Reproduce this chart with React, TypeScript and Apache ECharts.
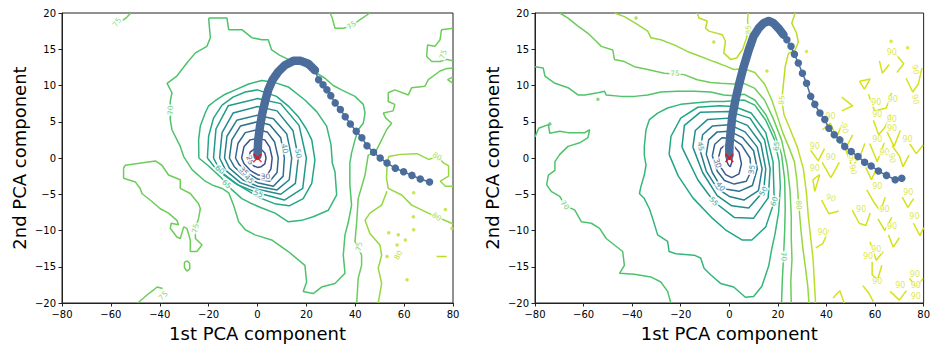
import React, { useEffect, useRef } from "react";
import * as echarts from "echarts";

// ---------- level colours (viridis-like) ----------
const LEVEL_COLORS: Record<number, string> = {
  25: "#3e4c8a", 30: "#3a548c", 35: "#31668e", 40: "#2c728e", 45: "#277f8e",
  50: "#228c8d", 55: "#1f998a", 60: "#22a785", 65: "#35b779", 70: "#4ec36b",
  75: "#6ccd5a", 80: "#95d840", 85: "#bade28", 90: "#d5e21a",
};
const TRAJ_COLOR = "#4a6d9c";

// ---------- LEFT PANEL contours ----------
const L25 = [[-3.5,0],[-3,0.8],[-1.5,1.2],[0,1.3],[1.5,1.2],[3,0.7],[3.5,0],[3,-0.8],[1.5,-1.2],[0,-1.3],[-1.5,-1.1],[-3,-0.6]];
const L30 = [[-6.5,0],[-5.5,1.6],[-3,2.5],[0,2.7],[3,2.5],[5,1.5],[6,0],[5.5,-1.5],[3.5,-2.6],[0,-2.3],[-3,-1.7],[-5.5,-0.8]];
const L35 = [[-9,0],[-8,2],[-5,3.5],[0,3.9],[4,3.6],[7,2.2],[8.5,0],[8,-2],[5,-3.2],[0,-2.9],[-4,-2.1],[-7.5,-0.9]];
const L40 = [[-11.5,0],[-10.5,2.5],[-7,4.4],[0,5],[5,4.6],[9.5,2.8],[11,0],[10.5,-2.5],[6.5,-3.9],[0,-3.4],[-5,-2.6],[-9.5,-1.2]];
const L45 = [[-13.5,0],[-12.5,3],[-8.5,5.2],[0,5.9],[6.5,5.4],[12,3.3],[14,0],[13,-3],[8,-4.4],[0,-3.9],[-6,-3],[-11.5,-1.4]];
const L50 = [[-15.5,0],[-14.5,3.5],[-10,6.2],[0,7.1],[8,6.5],[14.5,3.8],[16.7,0],[15.5,-3.5],[9.5,-5],[0,-4.3],[-7,-3.4],[-13,-1.7]];
const L55 = [[-18,0],[-17,4],[-12,7.2],[0,8.2],[9.5,7.5],[17,4.5],[20,0],[18.5,-4.2],[11,-5.8],[0,-4.8],[-8,-3.7],[-15,-1.9]];
const L60 = [[-20.5,0],[-20,3],[-18,5.5],[-14.5,7.3],[-10,8.4],[-5,9.1],[0,9.4],[7.8,8.5],[12.5,7.2],[16.7,5.7],[20,4],[22.2,2.5],[23.5,-0.3],[22.2,-3.5],[18.7,-5.6],[13,-6.6],[7,-6.3],[1,-5.5],[-4,-4.5],[-9,-3.5],[-13.5,-2.4],[-17,-1.5]];
const L65 = [[-24,0],[-24.1,2.5],[-23.4,4.4],[-21.4,6.2],[-20,7.2],[-17.3,7.9],[-13.2,8.8],[-9.1,9.4],[-3.6,10.2],[1.8,10.7],[7.2,10.4],[12.6,9.8],[19.4,8],[24.2,6.4],[28.3,4.4],[30.1,1.8],[30.6,-0.7],[31.7,-1.9],[32.4,-5.1],[29,-7.2],[22.8,-8.1],[18.1,-8.6],[12.6,-8.8],[7.2,-7.6],[1,-6.8],[-3,-6.2],[-6.4,-5.6],[-10.4,-4.4],[-15.2,-2.6],[-20,-1.1]];
const L70 = [[-20,19.3],[-12.5,19.3],[-11.8,17.7],[-6.4,17.7],[-2.3,16.6],[1.8,16.3],[4.4,16.3],[5.8,14.9],[9,14.2],[12.6,13.6],[16.5,13.3],[22.8,12],[27.6,11],[31,10],[34.4,9.4],[39.9,8.5],[43.3,7.4],[44,6.2],[43.3,4.8],[41.2,3.9],[39.9,2.5],[38.5,0.7],[37.8,-0.7],[37.8,-3.7],[38.5,-6.5],[37.2,-8.8],[35.8,-10.6],[35.1,-13.4],[35.8,-15.9],[31.7,-17.3],[26.2,-17.8],[22.8,-18.7],[18.7,-18.4],[20.1,-17.1],[19.4,-14.8],[12.6,-12.9],[5.8,-11.3],[-1,-10.6],[-5,-9.9],[-7.7,-8.8],[-9.8,-6.5],[-11.8,-4.8],[-14.5,-4.2],[-18,-3.8],[-21.4,-3.2],[-26.8,-1.6],[-30.2,0.2],[-31.6,1.6],[-35,3.9],[-35.7,5.3],[-35.7,7.8],[-35,9],[-37,10.3],[-33,11.3],[-28.9,13.1],[-25.4,14.5],[-20.7,15.4],[-19.3,16.6]];
const L75_TOPLEFT = [[-55.5,18.9],[-53.5,19.4],[-51.8,20]];
const L75_TOPRIGHT = [[29.7,20],[30.6,19.3],[31.7,17.9],[35.1,17.9],[38.5,18.2],[42,19.1],[46,20]];
const L75_EDGE = [[80,17.9],[75.3,17.7],[74.7,16.3],[72.6,15.4],[69.6,15.6],[69.2,14],[71.3,13.3],[74.7,13.3],[77.5,13.6],[80,13.4]];
const L75_HOOK = [[80,11.2],[77.8,10.8],[80,10.3]];
const L75_RIGHT = [[80,12.4],[77,12.3],[74.7,12],[69.9,10.8],[68.5,9.9],[63.1,9.7],[61.7,8.7],[56.2,9.4],[53.5,9],[53.5,7.8],[56.2,7.4],[55.5,6.5],[51.5,6.2],[52.5,5.5],[54.9,4.8],[52.8,3.9],[50.8,2.5],[48.1,0.7],[45.3,0.4],[44,-2.35],[41.2,-5.6],[40.6,-8.8],[39.9,-11.5],[42.6,-13.4],[42.6,-14.8],[41.2,-16.6],[40.6,-20]];
const L75_ISLAND = [[-54.8,-1.4],[-54.1,-1],[-41.8,-0.4],[-39.1,-1],[-36.4,-2.35],[-31.6,-3],[-31.6,-4.2],[-27.5,-4.9],[-24.1,-6.3],[-23.4,-7],[-24.1,-8.3],[-25.4,-9.7],[-25.4,-11.1],[-22.7,-12],[-24.8,-12.9],[-27.5,-12.9],[-27.5,-11.3],[-28.9,-9.7],[-30.2,-9.5],[-31.6,-11.1],[-33,-10.9],[-35.7,-9.7],[-35.3,-9],[-32.3,-9.2],[-33,-8.6],[-36.4,-7.6],[-39.8,-7],[-43.2,-6],[-47.3,-4.9],[-48,-4.2],[-50,-3.3],[-54.8,-2.8]];
const L75_LOOP = [[-28.9,-14.2],[-27.8,-14.5],[-27.7,-15.3],[-28.9,-15.6],[-29.9,-15.1],[-29.9,-14.4]];
const L75_BOTTOM = [[-49,-20],[-45.2,-18.9],[-42.5,-18.2],[-41.1,-17.8],[-38.8,-18]];
const L80_A = [[80,-3.9],[76.9,-3.9],[74.8,-3.2],[78.2,-2.5],[78.2,-1.1],[76.2,-0.7],[73.5,0.2],[70,-0.2],[65.3,0.6],[58.4,0.5],[53.7,0.2],[53,-1.1],[52.8,-2.8],[53.5,-4.2],[59,-5.1],[63.1,-6.5],[69.9,-7.6],[73.3,-8.1],[79.4,-9],[80,-9.1]];
const L80_B = [[53,-4.6],[50.8,-6.5],[46,-7.6],[44,-8.6],[46,-10.4],[50.1,-12],[50.8,-13.4],[49.4,-15.2],[50.8,-17.3],[49.4,-20]];
const L85_DASH = [[73.3,-13.6],[77.4,-13.6]];
const L_SPOTS = [[63.9,-4.8],[76.9,-7.1],[63.8,-8.1],[63.9,-9.9],[53.7,-10.3],[57.1,-12],[60.5,-11.3],[53,-13.6],[61.2,-16.8],[79.6,-9.7],[57.6,-10.6]];
// [x, y, level, rotation]
const L_LABELS = [
  [-57.5,18.7,75,55],[38.5,18.3,75,35],[76,14.3,75,70],[-35.7,6.6,70,90],[-25.4,-9.7,75,80],
  [-38.6,-19,75,45],[41.6,-12.2,75,80],[73.5,0.2,80,-35],[73.3,-8.1,80,-35],[57.6,-13.4,80,60],
  [-15.4,-1.6,60,-40],[-12.6,-3.6,65,-40],[0.3,-4.9,55,-20],[3.3,-2.6,30,0],[-3.1,-0.3,25,-70],
  [11.2,1.3,40,-80],[16.7,0.6,50,-80],[-5.5,-1.8,35,-45],[-3.5,-2.9,45,-45],
];
const L_TRAJ_DENSE = [[0,0.3],[0.3,2.5],[1,4.3],[2,6.2],[3.1,7.8],[4.4,9.4],[6.2,10.8],[8.5,11.9],[11.2,12.8],[14.7,13.4],[17.7,13.4],[20.8,13],[23.5,12.1]];
const L_TRAJ_DOTS = [[25,10.8],[26.8,10.1],[28.4,9.4],[30,8.6],[31.8,7.6],[33.9,6.7],[35.9,5.7],[38,4.7],[40.4,3.7],[42.7,2.8],[44.8,1.7],[47.5,0.8],[50.2,0],[53,-0.7],[56.4,-1.4],[59.8,-1.9],[63.2,-2.4],[66.6,-2.9],[70.4,-3.3]];

// ---------- RIGHT PANEL contours ----------
const R25 = [[-1.2,0.3],[-0.6,1],[0.3,1.1],[1,0.4],[1.1,-0.5],[0.4,-1.2],[-0.3,-1],[-1,-0.5]];
const R30 = [[-4.5,0],[-3.5,1.3],[-1,2],[1.5,1.8],[4,0.8],[5,-0.8],[4,-2.2],[1,-2.7],[-1.5,-2.3],[-3.5,-1.3]];
const R35 = [[-7,0.3],[-6,1.9],[-3,2.8],[1,2.7],[5,1.8],[8.5,0],[9,-1.8],[7,-3.2],[2,-3.6],[-2,-3.1],[-5,-1.8]];
const R40 = [[-9.5,0.5],[-8.5,2.5],[-5,3.6],[0,3.7],[5.5,2.8],[10,1],[11.5,-1.5],[9.5,-3.8],[4,-4.6],[-1,-4.3],[-3.6,-3.9],[-7,-2]];
const R45 = [[-12,1],[-11,3.2],[-7,4.4],[0,4.6],[6.5,3.6],[11.5,1.5],[13.5,-1.5],[12,-4.5],[6,-5.8],[0,-5.3],[-5,-4.2],[-9.5,-1.8]];
const R50 = [[-15,1.5],[-14,3.8],[-9,5.3],[0,5.5],[7.5,4.5],[13,2],[15,-1.5],[14.1,-4.6],[8,-6.9],[1,-6.6],[-5,-5.2],[-11,-2]];
const R55 = [[-19.5,1.5],[-18.5,4.5],[-12,6.3],[0,6.4],[8.5,5.5],[14.5,2.5],[16.8,-1.5],[16,-5.5],[10,-8.3],[2,-8.2],[-6.4,-6],[-13,-3]];
const R60 = [[-24.8,0.5],[-24,3],[-20,5.5],[-13,7],[-4,7.2],[2,7.1],[9,6.2],[15,3.5],[18,-0.5],[18.5,-6],[15,-9.5],[9.3,-11.3],[5.2,-11.3],[-1.6,-9.9],[-7,-8.3],[-15,-5.5],[-21,-2.5]];
const R65 = [[-35,0.4],[-35,1.6],[-34.3,3.9],[-32.9,5.3],[-29.5,6.2],[-25.4,6.9],[-20,7.4],[-14.5,7.6],[-7.7,7.8],[-2.3,7.8],[1.8,7.9],[6,8],[10.5,7.3],[15,5.2],[18.5,2.6],[20.5,-0.5],[21,-4],[20.3,-7.5],[18.8,-10.5],[17.5,-12.5],[16.2,-14.9],[13.4,-17.7],[10,-19.1],[6.6,-19.2],[1.8,-17.8],[-3.6,-17.3],[-7.7,-16.1],[-10.4,-15.2],[-11.8,-13.8],[-14.5,-13.4],[-22,-13.2],[-24.8,-12.9],[-25.4,-11.5],[-29.5,-10.6],[-31.6,-8.3],[-32.9,-7],[-35,-5.6],[-37,-4.9],[-36.4,-3.95],[-35,-2.35],[-34.3,-1]];
const R70_TOP = [[-80,12.6],[-76.6,12.4],[-75.9,11.3],[-71.8,10.3],[-66.4,9.7],[-62.3,8.7],[-59.5,8.7],[-54.1,9],[-51.4,9.2],[-50.7,8.7],[-44.5,8.5],[-39.1,8.5],[-33.6,8.7],[-28.2,9.1],[-21.4,9.2],[-14.5,9.2],[-7.7,9.1],[-2.3,8.7],[1.8,8.6],[6,8.8],[10.5,8],[15,6],[18.5,3.5],[21.5,0.5],[22.8,-3],[23,-7],[22.8,-10],[22.3,-13.8],[21.8,-17],[21.5,-20]];
const R70_LEFT = [[-80,2.9],[-78.5,4.1],[-74.5,4.6],[-73.9,3.4],[-69.8,3.7],[-66.4,3.5],[-59.5,3.5],[-57.5,3.9],[-58.2,2.8],[-61.6,2.1],[-66.4,1.6],[-69.8,0.5],[-71.8,-0.5],[-71.8,-1.7],[-74.5,-2.35],[-75.2,-3.7],[-73.2,-4.65],[-69.8,-5.3],[-67.7,-6.5],[-63.6,-7.2],[-60.9,-8.8],[-56.8,-9],[-53.4,-9.7],[-50.7,-11.1],[-47.3,-12],[-43.9,-12.9],[-43.2,-14.8],[-45.2,-15.9],[-39.1,-16.05],[-32.3,-16.4],[-28.2,-17.1],[-25.4,-18.4],[-24.1,-20]];
const R75 = [[-69.8,20],[-66.4,19.3],[-62.3,18.2],[-58.2,17.2],[-54.8,16.1],[-52.7,15.4],[-48,14.9],[-47.3,13.6],[-43.2,13.3],[-39.1,12.6],[-33.6,12.2],[-26.8,11.7],[-22.7,11.6],[-18.6,11.5],[-13.2,10.8],[-7.7,10.4],[-3.6,10.3],[1.8,10.2],[6,10.3],[10.5,9.6],[14.5,8],[18,5.5],[21.5,2.5],[23.8,-1],[25,-4.5],[25.5,-8],[25.5,-11],[25.8,-14],[25.3,-17],[25.5,-20]];
const R80 = [[-47.3,20],[-43.2,19.5],[-37.7,18.4],[-33.6,17.5],[-32.3,16.6],[-28.2,16.3],[-22.7,15.6],[-17.3,14.7],[-11.8,14],[-6.4,13.3],[-0.9,12.6],[1.8,12.2],[6,12.3],[10.5,11.8],[14.5,10.2],[17.5,8],[20,5.5],[22,3.5],[24.5,1.5],[26.8,-0.5],[27.8,-3],[28.6,-6.5],[29.5,-10],[30.3,-12.5],[31.5,-15.5],[32.3,-17.7],[32.8,-20]];
const R85_TOP = [[-13.2,20],[-12.5,19.3],[-9.1,18.9],[-9.8,17.9],[-8.4,17.5],[-2.9,17],[-1.6,16.1],[-2.3,14.5],[0.5,13.6],[3,13.8],[5.5,15],[7,16.5],[7.8,17.7],[7.5,19],[7.8,20]];
const R85_RIGHT = [[27.1,20],[25.7,18.6],[27.7,17.2],[28.4,16],[27.1,14.9],[24.3,14.4],[23,12.6],[22.3,10.3],[21.6,8],[22.5,6],[25,4],[28,1.5],[30.5,-1.5],[31.8,-5],[32.5,-8],[33.5,-11],[34.5,-14],[35,-17],[35.5,-20]];
const R90_FRAGMENTS = [
  [[61.8,13.4],[63,11.7],[65.8,12.9]],
  [[68.3,14.4],[71.8,13],[69,11.8]],
  [[53.6,10.6],[58,10.9],[55.6,9.5],[53.6,10.6]],
  [[46.3,8.4],[50.8,7.2],[46.3,6.5]],
  [[57.3,8.8],[59.8,6.5],[64.6,6.9],[66.8,9]],
  [[72.8,11],[75.5,9.1],[77.8,10.2],[79.3,12.4]],
  [[59.3,5.2],[61.5,3.2],[64.2,4.3],[66.4,6]],
  [[64.8,3.7],[67.8,1.6],[70.4,3.8]],
  [[38.3,3.9],[41.6,4.8],[44.2,2.9],[46.8,5]],
  [[44.2,3.2],[47.5,1.1],[50.8,3.2]],
  [[33.2,1.2],[36.6,-0.4],[39.2,1.3]],
  [[38.2,-0.6],[41.8,-2.7],[45.3,-0.6]],
  [[47.3,1.7],[50.5,-1.2],[53.8,0.2],[55.8,2]],
  [[57.8,2],[60.9,-0.5],[63.8,2.1]],
  [[67,1.7],[70,0.3],[71.5,-1.2],[74,0.4]],
  [[74.2,2],[77,0.6],[79.8,1.8]],
  [[34.4,-3],[37.2,-2.3],[35.2,-4.6],[34.4,-3]],
  [[56.2,-1.3],[58.5,-3],[60.4,-1.6]],
  [[38,-5.8],[41,-7.7],[45,-7.3]],
  [[56.6,-4.4],[59.5,-6.1],[62.2,-7.3],[64.2,-5.4]],
  [[50.6,-7.2],[53.5,-9],[56.2,-9.3],[58,-7.6]],
  [[61.2,-8.4],[64,-10],[66.9,-8.2]],
  [[71.2,-5.4],[73.5,-6.8],[75.9,-5.6]],
  [[75.8,-9],[78.5,-10.7],[80,-9.6]],
  [[35.6,-12.4],[38.5,-11.8],[41,-9.9]],
  [[58.8,-14.3],[58.8,-16.1],[61,-16.8],[62.8,-14.8]],
  [[57.9,-11.6],[60.5,-14.1],[63.4,-12.9]],
  [[55,-17.6],[57.5,-18.7],[59.3,-19.8]],
  [[66.2,-18.4],[70,-19.6],[72.9,-18.3]],
  [[74.2,-16.6],[77,-17.9],[79.8,-16.6]],
  [[65.5,-10.6],[67.5,-12.3],[70,-11]],
  [[42.7,-19.3],[45.5,-18.3],[47.3,-20]],
];
// [x, y, level]
const R_SPOTS = [[-38.4,19.3,80],[-6.4,16,85],[-54.1,8.1,75],[-73.9,4.7,70],[15.5,12,85],[31.8,14.7,90],[66.6,16.1,90],[73.4,15.2,90]];
const R_LABELS = [
  [-22.4,11.7,75,0],[-67.7,-6.5,70,-50],[7.8,17.7,85,90],[21.6,8,85,85],[19.4,1.6,65,85],
  [-11.8,1.6,45,-80],[-4.8,-0.7,30,-70],[0,1.4,25,0],[9.3,-1.6,35,80],[-3.6,-3.9,40,-50],
  [14.1,-4.6,50,60],[-6.4,-6,55,-50],[18.5,-6,60,70],[22.4,-13.6,70,-85],[28.6,-6.5,80,-85],
];
const R90_LABELS = [
  [66.9,14.5,0],[76.6,12.2,-80],[67.3,8.1,0],[60.5,7.6,0],[76.6,8.1,-80],[60.9,6,0],[66.9,5.3,0],
  [41.7,5.7,0],[47.5,4.1,-80],[67,4.1,0],[35.2,1.6,0],[41.8,0.1,0],[51.3,0,0],[60.9,2.5,0],
  [63.9,0.8,0],[73.4,2.5,0],[67,0,-80],[35.2,-1.5,0],[50.9,-1.6,-80],[60.9,-3.9,0],[41.8,-5.5,-20],
  [54.3,-7.1,0],[63.9,-7.1,0],[73.7,-4.7,0],[76.2,-8,0],[38.4,-10.3,0],[67,-9.4,0],[60.5,-12.6,0],
  [57.1,-13.6,0],[76.4,-16,0],[60.9,-17.1,0],[70.4,-17.6,0],[76.8,-17.6,0],[76.8,-19.1,0],
];
const R_TRAJ_DENSE = [[0,0.3],[0,1.6],[0.5,3.4],[1.2,5.7],[2.5,8],[4.1,10.3],[5.9,12.6],[8,14.9],[10,16.8],[12.1,17.9],[14.1,18.6],[16.2,18.9],[18.2,18.6],[20.2,17.9],[22.3,17]];
const R_TRAJ_DOTS = [[23.7,16.3],[25.4,15.4],[26.8,14.3],[28.4,13.1],[30.1,11.7],[31.8,10.3],[33.5,8.5],[35.2,7.4],[37.3,6.2],[39.3,5.3],[41,4.1],[43.2,3.2],[45.5,2.5],[47.5,1.6],[50.2,0.9],[53,0.2],[55.7,-0.6],[58.4,-1.1],[61.4,-1.8],[64.7,-2.4],[68.3,-3],[71,-2.8]];
const OPTIMUM = [0, 0];

type Contour = { panel: number; level: number; pts: number[][]; closed?: boolean };
const CONTOURS: Contour[] = [
  { panel: 0, level: 25, pts: L25, closed: true },
  { panel: 0, level: 30, pts: L30, closed: true },
  { panel: 0, level: 35, pts: L35, closed: true },
  { panel: 0, level: 40, pts: L40, closed: true },
  { panel: 0, level: 45, pts: L45, closed: true },
  { panel: 0, level: 50, pts: L50, closed: true },
  { panel: 0, level: 55, pts: L55, closed: true },
  { panel: 0, level: 60, pts: L60, closed: true },
  { panel: 0, level: 65, pts: L65, closed: true },
  { panel: 0, level: 70, pts: L70, closed: true },
  { panel: 0, level: 75, pts: L75_TOPLEFT },
  { panel: 0, level: 75, pts: L75_TOPRIGHT },
  { panel: 0, level: 75, pts: L75_EDGE },
  { panel: 0, level: 75, pts: L75_HOOK },
  { panel: 0, level: 75, pts: L75_RIGHT },
  { panel: 0, level: 75, pts: L75_ISLAND, closed: true },
  { panel: 0, level: 75, pts: L75_LOOP, closed: true },
  { panel: 0, level: 75, pts: L75_BOTTOM },
  { panel: 0, level: 80, pts: L80_A },
  { panel: 0, level: 80, pts: L80_B },
  { panel: 0, level: 85, pts: L85_DASH },
  { panel: 1, level: 25, pts: R25, closed: true },
  { panel: 1, level: 30, pts: R30, closed: true },
  { panel: 1, level: 35, pts: R35, closed: true },
  { panel: 1, level: 40, pts: R40, closed: true },
  { panel: 1, level: 45, pts: R45, closed: true },
  { panel: 1, level: 50, pts: R50, closed: true },
  { panel: 1, level: 55, pts: R55, closed: true },
  { panel: 1, level: 60, pts: R60, closed: true },
  { panel: 1, level: 65, pts: R65, closed: true },
  { panel: 1, level: 70, pts: R70_TOP },
  { panel: 1, level: 70, pts: R70_LEFT },
  { panel: 1, level: 75, pts: R75 },
  { panel: 1, level: 80, pts: R80 },
  { panel: 1, level: 85, pts: R85_TOP },
  { panel: 1, level: 85, pts: R85_RIGHT },
  ...R90_FRAGMENTS.map((f) => ({ panel: 1, level: 90, pts: f })),
];

const FONT = "DejaVu Sans";
const fmtTick = (v: number) => (v < 0 ? "\u2212" + Math.abs(v) : String(v));

function buildOption() {
  const grids = [
    { left: 62, top: 13, width: 391, height: 290 },
    { left: 535, top: 13, width: 391, height: 290 },
  ].map((g) => ({ ...g, show: true, borderColor: "#222", borderWidth: 1, backgroundColor: "transparent" }));

  const xAxis = [0, 1].map((i) => ({
    type: "value", gridIndex: i, min: -80, max: 80, interval: 20,
    name: "1st PCA component", nameLocation: "middle", nameGap: 21,
    nameTextStyle: { fontSize: 18, color: "#000", fontFamily: FONT },
    axisLine: { show: true, onZero: false, lineStyle: { color: "#222", width: 1 } },
    axisTick: { show: true, inside: false, length: 3.5, lineStyle: { color: "#222" } },
    axisLabel: { fontSize: 10, color: "#000", fontFamily: FONT, margin: 6, formatter: fmtTick },
    splitLine: { show: false },
  }));
  const yAxis = [0, 1].map((i) => ({
    type: "value", gridIndex: i, min: -20, max: 20, interval: 5,
    name: "2nd PCA component", nameLocation: "middle", nameGap: 34,
    nameTextStyle: { fontSize: 18, color: "#000", fontFamily: FONT },
    axisLine: { show: true, onZero: false, lineStyle: { color: "#222", width: 1 } },
    axisTick: { show: true, inside: false, length: 3.5, lineStyle: { color: "#222" } },
    axisLabel: { fontSize: 10, color: "#000", fontFamily: FONT, margin: 6, formatter: fmtTick },
    splitLine: { show: false },
  }));

  const series: any[] = [];
  for (const c of CONTOURS) {
    const pts = c.closed ? [...c.pts, c.pts[0]] : c.pts;
    series.push({
      type: "line", xAxisIndex: c.panel, yAxisIndex: c.panel, data: pts,
      showSymbol: false, symbol: "none", silent: true, z: 2,
      lineStyle: { color: LEVEL_COLORS[c.level], width: 1.5 },
    });
  }

  const spotSeries = (panel: number, spots: number[][]) => ({
    type: "scatter", xAxisIndex: panel, yAxisIndex: panel, silent: true, z: 2,
    symbol: "circle", symbolSize: 3.5,
    data: spots.map((s) => ({ value: [s[0], s[1]], itemStyle: { color: LEVEL_COLORS[s[2]] } })),
  });
  series.push(spotSeries(0, L_SPOTS.map((s) => [s[0], s[1], 85])));
  series.push(spotSeries(1, R_SPOTS));

  const labelSeries = (panel: number, labels: number[][], fontSize: number) => ({
    type: "scatter", xAxisIndex: panel, yAxisIndex: panel, silent: true, z: 3,
    symbolSize: 0,
    label: {
      show: true, position: "inside", formatter: "{b}", fontSize, fontFamily: FONT,
      backgroundColor: "#fff", padding: [0, 1],
    },
    data: labels.map((l) => ({
      name: String(l[2]), value: [l[0], l[1]],
      label: { rotate: l[3], color: LEVEL_COLORS[l[2]] },
    })),
  });
  series.push(labelSeries(0, L_LABELS, 7.5));
  series.push(labelSeries(1, R_LABELS, 7.5));
  series.push(labelSeries(1, R90_LABELS.map((l) => [l[0], l[1], 90, l[2]]), 8));

  const traj = (panel: number, dense: number[][], dots: number[][]) => [
    {
      type: "line", xAxisIndex: panel, yAxisIndex: panel, data: dense, silent: true, z: 4,
      showSymbol: false, symbol: "none",
      lineStyle: { color: TRAJ_COLOR, width: 8.5, cap: "round", join: "round" },
    },
    {
      type: "line", xAxisIndex: panel, yAxisIndex: panel,
      data: [dense[dense.length - 1], ...dots], silent: true, z: 4,
      showSymbol: true, symbol: "circle", symbolSize: 7.5,
      itemStyle: { color: TRAJ_COLOR },
      lineStyle: { color: TRAJ_COLOR, width: 1.5 },
    },
    {
      type: "scatter", xAxisIndex: panel, yAxisIndex: panel, data: [OPTIMUM], silent: true, z: 5,
      symbol: "path://M0 0L10 10M10 0L0 10", symbolSize: 8,
      itemStyle: { color: "rgba(0,0,0,0)", borderColor: "#ff0000", borderWidth: 1.5 },
    },
  ];
  series.push(...traj(0, L_TRAJ_DENSE, L_TRAJ_DOTS));
  series.push(...traj(1, R_TRAJ_DENSE, R_TRAJ_DOTS));

  return { animation: false, backgroundColor: "#fff", grid: grids, xAxis, yAxis, series };
}

export default function App() {
  const ref = useRef<HTMLDivElement>(null);
  useEffect(() => {
    if (!ref.current) return;
    const chart = echarts.init(ref.current, null, { renderer: "svg" });
    chart.setOption(buildOption() as any);
    return () => chart.dispose();
  }, []);
  return (
    <div
      ref={ref}
      style={{ position: "fixed", left: 0, top: 0, width: 933, height: 348, background: "#fff" }}
    />
  );
}
